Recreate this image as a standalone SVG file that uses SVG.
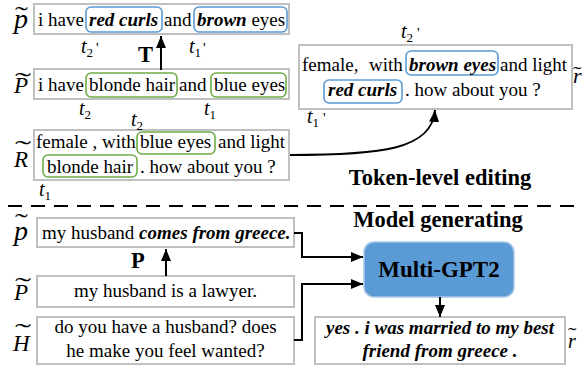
<svg xmlns="http://www.w3.org/2000/svg" width="584" height="369" viewBox="0 0 584 369" font-family="'Liberation Serif', 'Times New Roman', serif">
<style>
text{font-family:"Liberation Serif","Times New Roman",serif;fill:#000}
.t{font-size:19px}
.bi{font-weight:bold;font-style:italic}
.box{fill:#fff;stroke:#c0c0c0;stroke-width:2}
.blue{fill:none;stroke:#5b9bd5;stroke-width:1.6}
.green{fill:none;stroke:#70ad47;stroke-width:1.6}
.lbl{font-style:italic}
.tl{font-size:24px}
.sym{font-style:italic;font-size:20px}
.sub{font-size:13px;font-style:normal}
.pr{font-size:15px}
.hd{font-size:22.5px;font-weight:bold}
.ln{fill:none;stroke:#000;stroke-width:2}
</style>
<defs>
<marker id="ah" markerUnits="userSpaceOnUse" markerWidth="13" markerHeight="11" refX="12" refY="5" orient="auto">
<path d="M0,0 L12,5 L0,10 z" fill="#000"/>
</marker>
</defs>

<g id="top-p">
<rect class="box" x="34" y="4" width="255" height="30"/>
<rect class="blue" x="86" y="7" width="76" height="25" rx="5"/>
<rect class="blue" x="194" y="7" width="93" height="25" rx="5"/>
<text class="t" x="38" y="26">i have</text>
<text class="t bi" x="89" y="26">red curls</text>
<text class="t" x="164" y="26">and</text>
<text class="t" x="197" y="26"><tspan class="bi">brown</tspan> eyes</text>
<text class="lbl" x="14" y="28" font-size="28">p</text>
<text class="tl" transform="translate(15,23) scale(1.6,1)">˜</text>
</g>

<g id="top-P">
<rect class="box" x="34" y="69" width="255" height="30"/>
<rect class="green" x="86" y="73" width="91" height="24" rx="5"/>
<rect class="green" x="211" y="73" width="75" height="24" rx="5"/>
<text class="t" x="38" y="91">i have</text>
<text class="t" x="89" y="91">blonde hair</text>
<text class="t" x="179" y="91">and</text>
<text class="t" x="214" y="91">blue eyes</text>
<text class="lbl" x="14" y="93" font-size="23">P</text>
<text class="tl" transform="translate(15,89) scale(2,1)">˜</text>
</g>

<g id="top-R">
<rect class="box" x="34" y="130" width="255" height="50"/>
<rect class="green" x="137" y="132" width="78" height="22" rx="5"/>
<rect class="green" x="43" y="155" width="94" height="22" rx="5"/>
<text class="t" x="36" y="148">female , with</text>
<text class="t" x="140" y="148">blue eyes</text>
<text class="t" x="218" y="148">and light</text>
<text class="t" x="47" y="173">blonde hair</text>
<text class="t" x="140" y="173">. how about you ?</text>
<text class="lbl" x="14" y="167" font-size="23">R</text>
<text class="tl" transform="translate(15,157) scale(2,1)">˜</text>
</g>

<g id="top-r">
<rect class="box" x="299" y="45" width="273" height="64"/>
<rect class="blue" x="406" y="51" width="92" height="24" rx="5"/>
<rect class="blue" x="324" y="80" width="78" height="23" rx="5"/>
<text class="t" x="302" y="71">female,</text>
<text class="t" x="369" y="71">with</text>
<text class="t bi" x="409" y="71">brown eyes</text>
<text class="t" x="500" y="71">and light</text>
<text class="t bi" x="328" y="96">red curls</text>
<text class="t" x="405" y="96">. how about you ?</text>
<text class="lbl" x="573" y="83" font-size="22">r</text>
<text font-size="18" transform="translate(573,80) scale(1.4,1)">˜</text>
</g>

<g id="tags">
<text class="sym" x="81" y="53">t<tspan class="sub" dy="4">2</tspan></text><text class="pr" x="96" y="53">'</text>
<text class="sym" x="189" y="53">t<tspan class="sub" dy="4">1</tspan></text><text class="pr" x="203" y="53">'</text>
<text class="sym" x="79" y="115">t<tspan class="sub" dy="4">2</tspan></text>
<text class="sym" x="131" y="126">t<tspan class="sub" dy="4">2</tspan></text>
<text class="sym" x="204" y="115">t<tspan class="sub" dy="4">1</tspan></text>
<text class="sym" x="39" y="196">t<tspan class="sub" dy="4">1</tspan></text>
<text class="sym" x="401" y="38">t<tspan class="sub" dy="4">2</tspan></text><text class="pr" x="417" y="38">'</text>
<text class="sym" x="307" y="123">t<tspan class="sub" dy="4">1</tspan></text><text class="pr" x="323" y="123">'</text>
<text class="hd" x="138" y="62">T</text>
<text class="hd" x="131" y="268">P</text>
</g>

<text class="hd" x="440" y="185" text-anchor="middle">Token-level editing</text>
<text class="hd" x="438" y="227" text-anchor="middle">Model generating</text>
<line x1="8" y1="206" x2="578" y2="206" stroke="#000" stroke-width="2" stroke-dasharray="14 9"/>

<g id="bot-p">
<rect class="box" x="37" y="218" width="257" height="29"/>
<text class="t" x="42" y="239">my husband <tspan class="bi">comes from greece.</tspan></text>
<text class="lbl" x="14" y="240" font-size="28">p</text>
<text class="tl" transform="translate(15,230) scale(1.6,1)">˜</text>
</g>

<g id="bot-P">
<rect class="box" x="37" y="276" width="257" height="31"/>
<text class="t" x="165.5" y="297" text-anchor="middle">my husband is a lawyer.</text>
<text class="lbl" x="14" y="300" font-size="23">P</text>
<text class="tl" transform="translate(15,294) scale(2,1)">˜</text>
</g>

<g id="bot-H">
<rect class="box" x="37" y="317" width="257" height="47"/>
<text class="t" x="165.5" y="333" text-anchor="middle">do you have a husband? does</text>
<text class="t" x="165.5" y="357" text-anchor="middle">he make you feel wanted?</text>
<text class="lbl" x="13" y="351" font-size="23">H</text>
<text class="tl" transform="translate(15,340) scale(2,1)">˜</text>
</g>

<g id="gpt2">
<rect x="364" y="242" width="150" height="55" rx="10" fill="#5b9bd5" stroke="#a8c7e6" stroke-width="1.5"/>
<text x="439" y="277" font-size="23" font-weight="bold" text-anchor="middle" fill="#111">Multi-GPT2</text>
</g>

<g id="bot-r">
<rect class="box" x="315" y="317" width="250" height="47"/>
<text class="t bi" x="440" y="334" text-anchor="middle">yes . i was married to my best</text>
<text class="t bi" x="440" y="357" text-anchor="middle">friend from greece .</text>
<text class="lbl" x="568" y="348" font-size="20">r</text>
<text font-size="18" transform="translate(568,341) scale(1.4,1)">˜</text>
</g>

<g id="connectors">
<line class="ln" x1="161" y1="70" x2="161" y2="36" marker-end="url(#ah)"/>
<path class="ln" d="M290,155 C380,155 432,150 435,110" marker-end="url(#ah)"/>
<line class="ln" x1="166" y1="276" x2="166" y2="249" marker-end="url(#ah)"/>
<path class="ln" d="M294,233 H302 V257 H363" marker-end="url(#ah)"/>
<path class="ln" d="M294,340 H302 V284 H363" marker-end="url(#ah)"/>
<line class="ln" x1="440" y1="297" x2="440" y2="317" marker-end="url(#ah)"/>
</g>
</svg>
